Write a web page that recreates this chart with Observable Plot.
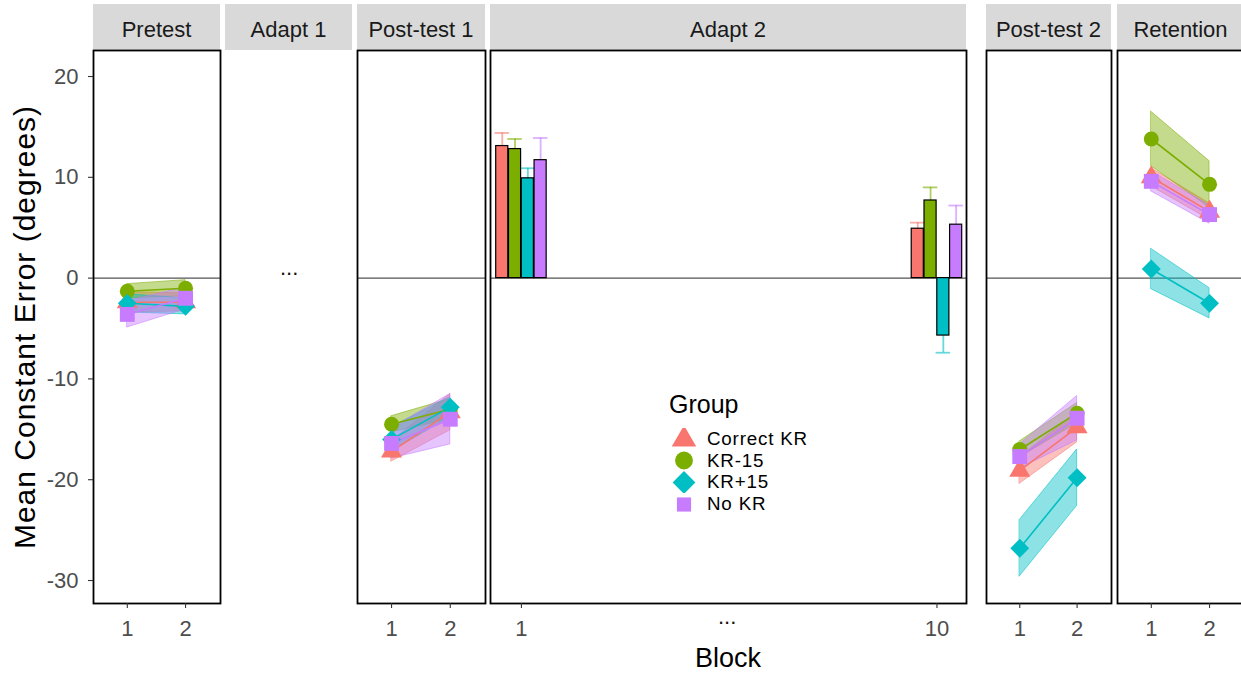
<!DOCTYPE html>
<html><head><meta charset="utf-8">
<script src="https://cdn.jsdelivr.net/npm/d3@7"></script>
<script src="https://cdn.jsdelivr.net/npm/@observablehq/plot@0.6"></script>
<style>
body{margin:0;background:#fff;font-family:"Liberation Sans",Arial,sans-serif;}
#root{position:relative;width:1241px;height:681px;overflow:hidden;background:#fff;}
.strip{position:absolute;top:4px;height:46px;box-sizing:border-box;padding-top:5px;background:#D9D9D9;color:#1a1a1a;font-size:22px;display:flex;align-items:center;justify-content:center;white-space:nowrap;}
.abs{position:absolute;white-space:nowrap;}
.panel svg{overflow:visible;max-width:none !important;}
</style></head><body><div id="root"></div>
<script>
// ---------- data ----------
const groups = ["Correct KR", "KR-15", "KR+15", "No KR"];
const blocks = [1, 2];
const panelTitles = ["Pretest", "Adapt 1", "Post-test 1", "Adapt 2", "Post-test 2", "Retention"];
const yTicks = [20, 10, 0, -10, -20, -30];

// means [group][block], standard errors [group][block]
const pretestMean = [[-2.4, -2.4], [-1.3, -1.0], [-2.5, -2.8], [-3.6, -2.0]];
const pretestSE   = [[1.0, 0.9], [0.7, 0.8], [0.9, 0.8], [1.3, 1.1]];
const post1Mean   = [[-17.2, -13.3], [-14.5, -13.0], [-16.0, -12.8], [-16.4, -14.0]];
const post1SE     = [[1.0, 1.8], [0.8, 1.0], [1.2, 1.0], [1.5, 2.5]];
const post2Mean   = [[-19.1, -14.8], [-17.0, -13.4], [-26.8, -19.8], [-17.7, -13.9]];
const post2SE     = [[1.3, 1.5], [0.8, 1.0], [2.8, 2.8], [1.2, 2.2]];
const retMean     = [[10.0, 6.6], [13.8, 9.3], [0.9, -2.5], [9.6, 6.3]];
const retSE       = [[0.9, 0.8], [2.7, 2.3], [2.0, 1.5], [1.0, 0.9]];

const adapt2Blocks = [1, 10];
const adapt2Mean = [[13.1, 4.9], [12.8, 7.7], [9.9, -5.7], [11.7, 5.3]];
const adapt2SE   = [[1.3, 0.6], [1.0, 1.3], [1.0, 1.7], [2.2, 1.9]];

// ---------- style ----------
const colors = ["#F8766D", "#7CAE00", "#00BFC4", "#C77CFF"];
const symbols = ["triangle", "circle", "diamond2", "square"];
const symbolR = [7.8, 7.5, 8.5, 8.4];
const font = '"Liberation Sans", Arial, sans-serif';
const yDomain = [-32.28, 22.58];
const PANEL_TOP = 50, PANEL_H = 553, MB = 60, MT = 2;

const root = document.getElementById("root");

function place(el, left, top, w) {
  const d = document.createElement("div");
  d.className = "panel";
  d.style.position = "absolute";
  d.style.left = left + "px";
  d.style.top = top + "px";
  d.style.width = w + "px";
  d.appendChild(el);
  root.appendChild(d);
}
function addText(txt, left, top, css) {
  const d = document.createElement("div");
  d.className = "abs";
  d.textContent = txt;
  d.style.left = left + "px";
  d.style.top = top + "px";
  Object.assign(d.style, css || {});
  root.appendChild(d);
  return d;
}

function baseOpts(ml, w, xdomain) {
  return {
    width: ml + w + 2, height: MT + PANEL_H + MB,
    marginTop: MT, marginBottom: MB, marginLeft: ml, marginRight: 2,
    x: {domain: xdomain, label: null},
    y: {domain: yDomain, label: null},
    color: {domain: groups, range: colors},
    style: {fontFamily: font, fontSize: "22px", color: "#4D4D4D", background: "transparent", overflow: "visible", maxWidth: "none"}
  };
}
function axes(xticks, yaxis) {
  const a = [Plot.axisX({ticks: xticks, tickSize: 5, tickPadding: 12, tickFormat: d => String(d), label: null, stroke: "#333", strokeWidth: 1.1})];
  if (yaxis) a.push(Plot.axisY({ticks: yTicks, tickSize: 5, tickPadding: 10, tickFormat: d => String(d), label: null, stroke: "#333", strokeWidth: 1.1}));
  else a.push(Plot.axisY({ticks: [], label: null}));
  return a;
}

function testPanel(mean, se, left, w, yaxis) {
  const rows = [];
  groups.forEach((g, gi) => blocks.forEach((b, bi) => rows.push({
    group: g, gi, block: b, mean: mean[gi][bi],
    lo: mean[gi][bi] - se[gi][bi], hi: mean[gi][bi] + se[gi][bi]
  })));
  const ml = yaxis ? left : 2;
  const opts = baseOpts(ml, w, [0.42, 2.6]);
  opts.marks = [
    Plot.ruleY([0], {stroke: "#555", strokeWidth: 1.2}),
    Plot.areaY(rows, {x: "block", y1: "lo", y2: "hi", z: "group", fill: "group", fillOpacity: 0.45, stroke: "group", strokeOpacity: 0.55, strokeWidth: 1}),
    Plot.line(rows, {x: "block", y: "mean", z: "group", stroke: "group", strokeWidth: 1.6}),
    ...groups.map((g, gi) => Plot.dot(rows.filter(r => r.gi === gi), {x: "block", y: "mean", fill: "group", symbol: () => symbols[gi], r: symbolR[gi]})),
    Plot.frame({stroke: "#000", strokeWidth: 1.8}),
    ...axes(blocks, yaxis)
  ];
  opts.symbol = {type: "identity"};
  place(Plot.plot(opts), left - ml, PANEL_TOP - MT, ml + w + 2);
}

function adaptPanel(left, w) {
  const step = 0.277, bw = 0.262;
  const rows = [];
  groups.forEach((g, gi) => adapt2Blocks.forEach((b, bi) => {
    const m = adapt2Mean[gi][bi], s = adapt2SE[gi][bi];
    const x1 = b + (gi - 2) * step + (step - bw) / 2;
    rows.push({group: g, block: b, x1, x2: x1 + bw, xc: x1 + bw / 2,
      cx1: x1 + bw / 2 - bw * 0.6, cx2: x1 + bw / 2 + bw * 0.6,
      mean: m, tip: m + Math.sign(m) * s});
  }));
  const ml = 2;
  const opts = baseOpts(ml, w, [0.33, 10.64]);
  opts.marks = [
    Plot.ruleY([0], {stroke: "#555", strokeWidth: 1.2}),
    Plot.ruleX(rows, {x: "xc", y1: "mean", y2: "tip", stroke: "group", strokeOpacity: 0.6, strokeWidth: 1.8}),
    Plot.ruleY(rows, {y: "tip", x1: "cx1", x2: "cx2", stroke: "group", strokeOpacity: 0.6, strokeWidth: 1.8}),
    Plot.rectY(rows, {x1: "x1", x2: "x2", y1: 0, y2: "mean", fill: "group", stroke: "#000", strokeWidth: 1.2}),
    Plot.frame({stroke: "#000", strokeWidth: 1.8}),
    ...axes(adapt2Blocks, false)
  ];
  place(Plot.plot(opts), left - ml, PANEL_TOP - MT, ml + w + 2);
}

// ---------- layout ----------
const panelBox = [[93, 127], [225, 127], [357, 128], [490, 476], [986, 125], [1117, 127]];
panelTitles.forEach((t, i) => {
  const d = document.createElement("div");
  d.className = "strip";
  d.textContent = t;
  d.style.left = panelBox[i][0] + "px";
  d.style.width = panelBox[i][1] + "px";
  root.appendChild(d);
});

testPanel(pretestMean, pretestSE, panelBox[0][0], panelBox[0][1], true);
testPanel(post1Mean, post1SE, panelBox[2][0], panelBox[2][1], false);
adaptPanel(panelBox[3][0], panelBox[3][1]);
testPanel(post2Mean, post2SE, panelBox[4][0], panelBox[4][1], false);
testPanel(retMean, retSE, panelBox[5][0], panelBox[5][1], false);

// ellipsis annotations
addText("...", 280, 257, {fontSize: "22px", color: "#111", lineHeight: "1"});
addText("...", 718, 606, {fontSize: "22px", color: "#111", lineHeight: "1"});

// axis titles
addText("Block", 0, 645, {width: "1456px", textAlign: "center", fontSize: "27px", color: "#000", lineHeight: "1"});
const yt = addText("Mean Constant Error (degrees)", 25, 327, {fontSize: "30px", letterSpacing: "1px", color: "#000", lineHeight: "1"});
yt.style.transform = "translate(-50%,-50%) rotate(-90deg)";

// legend
const leg = document.createElement("div");
leg.className = "abs";
leg.style.left = "669px";
leg.style.top = "392px";
leg.innerHTML = '<div style="font-size:25px;line-height:25px;height:25px;color:#000;margin-bottom:11px">Group</div>';
const legSize = [260, 250, 330, 200];
groups.forEach((g, gi) => {
  const row = document.createElement("div");
  row.style.cssText = "display:flex;align-items:center;height:21.6px;";
  const svg = d3.create("svg").attr("width", 30).attr("height", 22);
  const sym = {triangle: d3.symbolTriangle, circle: d3.symbolCircle, diamond2: d3.symbolDiamond2, square: d3.symbolSquare}[symbols[gi]];
  svg.append("path").attr("transform", "translate(15,11.5)").attr("d", d3.symbol(sym, legSize[gi])()).attr("fill", colors[gi]);
  row.appendChild(svg.node());
  const lab = document.createElement("div");
  lab.textContent = g;
  lab.style.cssText = "font-size:18.8px;letter-spacing:0.8px;color:#000;margin-left:8px;line-height:21.6px;height:21.6px;";
  row.appendChild(lab);
  leg.appendChild(row);
});
root.appendChild(leg);
</script></body></html>
